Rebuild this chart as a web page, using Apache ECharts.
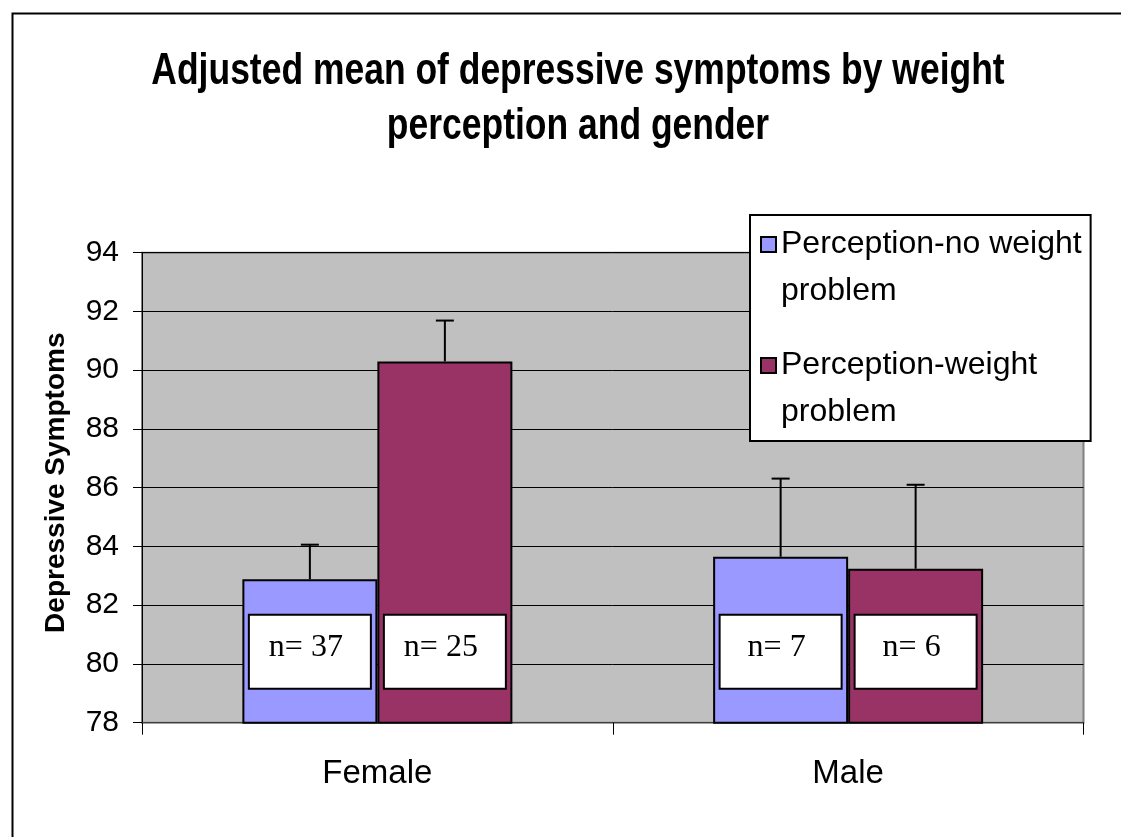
<!DOCTYPE html>
<html>
<head>
<meta charset="utf-8">
<script src="https://cdn.jsdelivr.net/npm/echarts@6/dist/echarts.min.js"></script>
<style>
  html, body { margin: 0; padding: 0; background: #fff; }
  #mycharts { width: 1121px; height: 837px; }
</style>
</head>
<body>
<div id="mycharts"></div>
<script>
// values
const titleLines = ['Adjusted mean of depressive symptoms by weight', 'perception and gender']
const categories = ['Female', 'Male']
const seriesNames = ['Perception-no weight problem', 'Perception-weight problem']
const meanNoWeight = [82.88, 83.65]
const meanWeight = [90.30, 83.24]
const upperNoWeight = [84.06, 86.31]
const upperWeight = [91.69, 86.10]
const nNoWeight = [37, 7]
const nWeight = [25, 6]
const yTicks = { min: 78, max: 94, interval: 2 }

const BAR_W = 135
const sans = '"Liberation Sans", Arial, sans-serif'

let myCharts = echarts.init(document.getElementById('mycharts'))

function errorBar(side) {
  return function (params, api) {
    const base = api.coord([api.value(0), api.value(1)])
    const top = api.coord([api.value(0), api.value(2)])
    const cx = base[0] + side * BAR_W / 2
    const style = { stroke: '#000', lineWidth: 2 }
    return {
      type: 'group',
      children: [
        { type: 'line', shape: { x1: cx, y1: base[1], x2: cx, y2: top[1] }, style: style },
        { type: 'line', shape: { x1: cx - 9, y1: top[1], x2: cx + 9, y2: top[1] }, style: style }
      ]
    }
  }
}

function nLabel(ns) {
  return {
    show: true,
    position: 'insideBottom',
    distance: 36,
    formatter: p => 'n= ' + ns[p.dataIndex],
    color: '#000',
    fontFamily: '"Liberation Serif", "Times New Roman", serif',
    fontSize: 32,
    lineHeight: 36,
    width: 76,
    backgroundColor: '#fff',
    borderColor: '#000',
    borderWidth: 2,
    padding: [14, 26, 22, 18]
  }
}

let options = {
  animation: false,
  backgroundColor: '#fff',
  legend: {
    data: seriesNames,
    orient: 'vertical',
    left: 750,
    top: 215,
    backgroundColor: '#fff',
    borderColor: '#000',
    borderWidth: 2,
    borderRadius: 0,
    padding: [5, 9, 4, 10],
    itemGap: 25,
    itemTextGap: 6,
    itemWidth: 15,
    itemHeight: 94,
    // square sits level with the first text line
    icon: 'path://M0,0 M0,94 M0,16 H15 V31 H0 Z',
    formatter: name => name.replace(' problem', '\nproblem'),
    textStyle: {
      fontFamily: sans,
      fontSize: 32,
      lineHeight: 47,
      color: '#000'
    }
  },
  grid: {
    left: 142,
    right: 37.5,
    top: 252.7,
    bottom: 114.3,
    show: true,
    backgroundColor: '#c0c0c0',
    borderColor: '#808080',
    borderWidth: 2
  },
  xAxis: {
    type: 'category',
    data: categories,
    axisLine: { lineStyle: { color: '#404040', width: 1 } },
    axisTick: { show: true, length: 12, lineStyle: { color: '#000' } },
    axisLabel: {
      margin: 35,
      color: '#000',
      fontFamily: sans,
      fontSize: 33
    }
  },
  yAxis: {
    type: 'value',
    min: yTicks.min,
    max: yTicks.max,
    interval: yTicks.interval,
    name: 'Depressive Symptoms',
    nameLocation: 'middle',
    nameRotate: 90,
    nameGap: 72,
    nameTextStyle: {
      fontFamily: sans,
      fontWeight: 'bold',
      fontSize: 28,
      color: '#000',
      padding: [0, 0, 0, 10]
    },
    axisLine: { show: true, lineStyle: { color: '#000', width: 1 } },
    axisTick: { show: true, length: 9, lineStyle: { color: '#000' } },
    axisLabel: {
      margin: 23,
      color: '#000',
      fontFamily: sans,
      fontSize: 30
    },
    splitLine: { show: true, lineStyle: { color: '#000', width: 1 } }
  },
  graphic: [
    {
      // condensed bold title, as in the original
      type: 'text',
      x: 578,
      y: 44.5,
      scaleX: 0.806,
      silent: true,
      style: {
        text: titleLines.join('\n'),
        font: 'bold 44px "Liberation Sans", Arial, sans-serif',
        lineHeight: 55,
        fill: '#000',
        textAlign: 'center',
        textVerticalAlign: 'top'
      }
    },
    {
      type: 'rect',
      left: 10,
      top: 11,
      shape: { width: 1200, height: 900 },
      style: { fill: 'none', stroke: '#000', lineWidth: 2 },
      silent: true,
      z: 100
    }
  ],
  series: [
    {
      name: seriesNames[0],
      type: 'bar',
      barWidth: BAR_W,
      barGap: '0%',
      data: meanNoWeight,
      itemStyle: { color: '#9999ff', borderColor: '#000', borderWidth: 2 },
      label: nLabel(nNoWeight),
      z: 2
    },
    {
      name: seriesNames[1],
      type: 'bar',
      barWidth: BAR_W,
      barGap: '0%',
      data: meanWeight,
      itemStyle: { color: '#993366', borderColor: '#000', borderWidth: 2 },
      label: nLabel(nWeight),
      z: 2
    },
    {
      type: 'custom',
      renderItem: errorBar(-1),
      data: categories.map((c, i) => [i, meanNoWeight[i], upperNoWeight[i]]),
      z: 3
    },
    {
      type: 'custom',
      renderItem: errorBar(1),
      data: categories.map((c, i) => [i, meanWeight[i], upperWeight[i]]),
      z: 3
    }
  ]
}
myCharts.setOption(options)
</script>
</body>
</html>
